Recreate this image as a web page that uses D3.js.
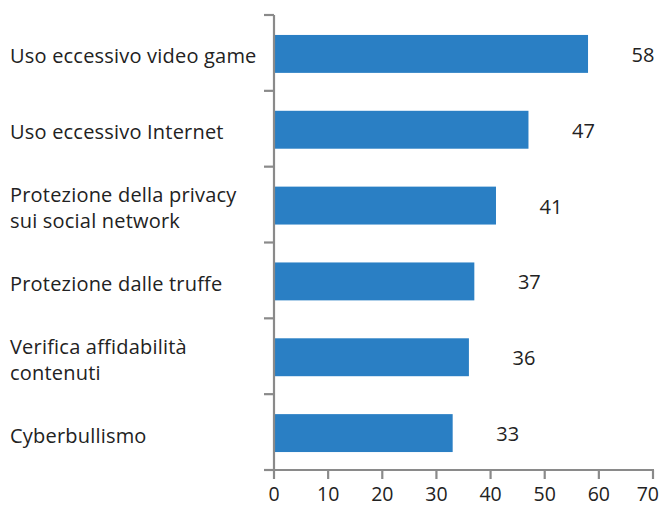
<!DOCTYPE html>
<html>
<head>
<meta charset="utf-8">
<script src="https://cdn.jsdelivr.net/npm/d3@7"></script>
<style>
  html, body { margin: 0; padding: 0; background: #fff; }
  svg text { font-family: "Open Sans", "Noto Sans", sans-serif; fill: #222; }
</style>
</head>
<body>
<svg id="chart" width="661" height="507"></svg>
<script>
// Categories (top to bottom), with manual line breaks
const categories = [
  ["Uso eccessivo video game"],
  ["Uso eccessivo Internet"],
  ["Protezione della privacy", "sui social network"],
  ["Protezione dalle truffe"],
  ["Verifica affidabilità", "contenuti"],
  ["Cyberbullismo"]
];
const values = [58, 47, 41, 37, 36, 33];
const xTicks = [0, 10, 20, 30, 40, 50, 60, 70];

const width = 661;
const svg = d3.select("#chart");
const plotLeft = 274, plotRight = 653, plotTop = 15, plotBottom = 470;
const axisColor = "#8a8a8a";
const barColor = "#2a7fc4";
const fontSize = 20;

const x = d3.scaleLinear().domain([0, 70]).range([plotLeft, plotRight]);
const y = d3.scaleBand().domain(d3.range(categories.length)).range([plotTop, plotBottom]).paddingInner(0.5).paddingOuter(0.25);
const yTicks = d3.scaleLinear().domain([0, categories.length]).range([plotTop, plotBottom]);

// Bars
svg.append("g").selectAll("rect").data(values).join("rect")
  .attr("x", x(0) + 1)
  .attr("y", (d, i) => y(i) + 1)
  .attr("width", d => x(d) - x(0) - 1)
  .attr("height", y.bandwidth())
  .attr("fill", barColor);

// Value labels
svg.append("g").selectAll("text").data(values).join("text")
  .attr("x", d => x(d) + 55)
  .attr("y", (d, i) => y(i) + 1 + y.bandwidth() / 2 + 8)
  .attr("text-anchor", "middle")
  .attr("font-size", fontSize)
  .text(d => d);

// Vertical category axis with tick marks at band boundaries
const ya = svg.append("g");
ya.append("line").attr("x1", plotLeft).attr("x2", plotLeft).attr("y1", plotTop).attr("y2", plotBottom)
  .attr("stroke", axisColor).attr("stroke-width", 2.2);
ya.selectAll("line.t").data(d3.range(categories.length + 1)).join("line").attr("class", "t")
  .attr("x1", plotLeft - 10).attr("x2", plotLeft).attr("y1", d => yTicks(d)).attr("y2", d => yTicks(d))
  .attr("stroke", axisColor).attr("stroke-width", 2.2);

// Category labels
const lineH = 26;
svg.append("g").selectAll("text").data(categories).join("text")
  .attr("x", 10)
  .attr("y", (d, i) => yTicks(i + 0.5) + 10.5 - (d.length - 1) * lineH / 2)
  .attr("font-size", fontSize)
  .attr("letter-spacing", 0.2)
  .each(function(d) {
    d3.select(this).selectAll("tspan").data(d).join("tspan")
      .attr("x", 10)
      .attr("dy", (t, j) => j === 0 ? 0 : lineH)
      .text(t => t);
  });

// Horizontal value axis
const xa = svg.append("g");
xa.append("line").attr("x1", plotLeft - 10).attr("x2", plotRight + 1).attr("y1", plotBottom).attr("y2", plotBottom)
  .attr("stroke", axisColor).attr("stroke-width", 2.2);
xa.selectAll("line.t").data(xTicks).join("line").attr("class", "t")
  .attr("x1", d => x(d)).attr("x2", d => x(d)).attr("y1", plotBottom).attr("y2", plotBottom + 9)
  .attr("stroke", axisColor).attr("stroke-width", 2.2);
xa.selectAll("text").data(xTicks).join("text")
  .attr("x", d => x(d))
  .attr("y", 501)
  .attr("text-anchor", "middle")
  .attr("font-size", 19.5)
  .text(d => d)
  .each(function(d) {
    // keep the last tick label inside the drawing area
    const half = this.getComputedTextLength() / 2;
    const cx = Math.min(x(d), width - 2 - half);
    d3.select(this).attr("x", cx);
  });
</script>
</body>
</html>
